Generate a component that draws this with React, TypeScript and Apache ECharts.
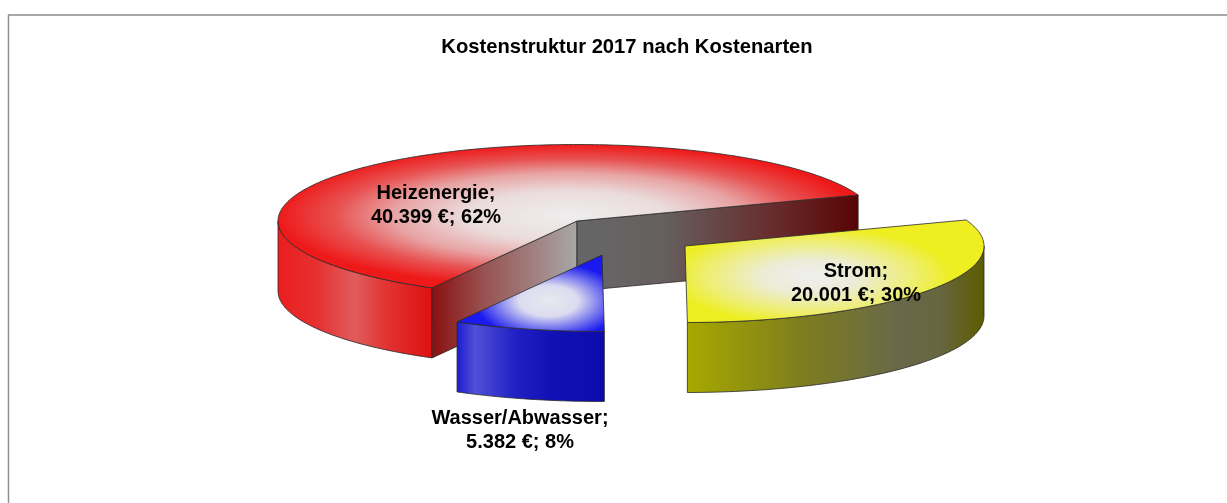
import React, { useEffect, useRef } from "react";
import * as echarts from "echarts";

const categories = ["Heizenergie", "Strom", "Wasser/Abwasser"];
const costs = [40399, 20001, 5382];
const costLabels = ["40.399", "20.001", "5.382"];
const percentLabels = [62, 30, 8];
const chartTitle = "Kostenstruktur 2017 nach Kostenarten";

const START_ANGLE = 241;
const CX = 577;
const CY = 221;
const RX = 299;
const RY = 76.5;
const DEPTH = 70;
const explode = [[0, 0], [108, 25], [25, 34]];
const labelPos = [[436, 204], [856, 282], [520, 429]];

const lin = (stops: [number, string][]) => ({
  type: "linear", x: 0, y: 0, x2: 1, y2: 0, global: false,
  colorStops: stops.map(([offset, color]) => ({ offset, color })),
});
const rad = (x: number, y: number, stops: [number, string][]) => ({
  type: "radial", x, y, r: 0.5, global: false,
  colorStops: stops.map(([offset, color]) => ({ offset, color })),
});

const topFills = [
  rad(0.5, 0.5, [[0, "#eeeeee"], [0.35, "#ebdcdc"], [0.6, "#e8a4a4"], [0.8, "#e85252"], [1, "#ee1a1a"]]),
  rad(0.42, 0.55, [[0, "#eeeeee"], [0.32, "#ececd8"], [0.7, "#eeee70"], [0.95, "#eeee20"]]),
  rad(0.62, 0.6, [[0, "#e8e8ee"], [0.4, "#dcdcf0"], [0.75, "#6a6aee"], [1, "#1a1af0"]]),
];
const sideFills = [
  lin([[0, "#ea1e1e"], [0.25, "#e63030"], [0.5, "#e05c5c"], [0.7, "#e23434"], [1, "#de1010"]]),
  lin([[0, "#a8a800"], [0.4, "#7c7c20"], [0.72, "#68684a"], [0.85, "#666640"], [1, "#5c5c00"]]),
  lin([[0, "#1c1cd0"], [0.12, "#5050d8"], [0.4, "#2020c4"], [0.65, "#1010b4"], [1, "#0c0cae"]]),
];
const wallFrontFill = lin([[0, "#8a1010"], [0.35, "#985050"], [1, "#a8a8a8"]]);
const wallBackFill = lin([[0, "#666666"], [0.3, "#666060"], [0.7, "#682c2c"], [1, "#580404"]]);
const edge = { stroke: "#2a2a2a", lineWidth: 0.8 };

const total = costs.reduce((a, b) => a + b, 0);
const rimPoint = (cx: number, cy: number, deg: number) => {
  const a = (deg * Math.PI) / 180;
  return [cx + RX * Math.cos(a), cy - RY * Math.sin(a)];
};
const arc = (cx: number, cy: number, from: number, to: number) => {
  const n = Math.max(2, Math.ceil(Math.abs(to - from)));
  const pts: number[][] = [];
  for (let i = 0; i <= n; i++) pts.push(rimPoint(cx, cy, from + ((to - from) * i) / n));
  return pts;
};

function renderSlice(params: any, api: any) {
  const i = params.dataIndex;
  const before = costs.slice(0, i).reduce((a, b) => a + b, 0);
  const value = api.value(0);
  const end = START_ANGLE - (before / total) * 360; // drawn clockwise
  const sweep = (value / total) * 360;
  const start = end - sweep;
  const cx = CX + explode[i][0];
  const cy = CY + explode[i][1];
  const children: any[] = [];
  const down = (p: number[]) => [p[0], p[1] + DEPTH];

  // Visible outer wall: the part of the rim in the lower half of the ellipse
  const s = ((start % 360) + 360) % 360;
  const e = s + sweep;
  const visFrom = Math.max(s, 180);
  const visTo = Math.min(e, 360);
  if (visTo > visFrom) {
    const rim = arc(cx, cy, visFrom, visTo);
    children.push({
      type: "polygon",
      shape: { points: [...rim, ...rim.map(down).reverse()] },
      style: { fill: sideFills[i], ...edge },
    });
  }
  if (sweep > 180) {
    const v = [cx, cy];
    const a = rimPoint(cx, cy, end);
    const b = rimPoint(cx, cy, start);
    children.push({ type: "polygon", shape: { points: [v, a, down(a), down(v)] }, style: { fill: wallFrontFill, ...edge } });
    children.push({ type: "polygon", shape: { points: [v, b, down(b), down(v)] }, style: { fill: wallBackFill, ...edge } });
  }
  children.push({
    type: "polygon",
    shape: { points: [[cx, cy], ...arc(cx, cy, start, end)] },
    style: { fill: topFills[i], ...edge },
  });
  children.push({
    type: "text",
    x: labelPos[i][0],
    y: labelPos[i][1],
    style: {
      text: `${categories[i]};\n${costLabels[i]} €; ${percentLabels[i]}%`,
      font: 'bold 20px "Liberation Sans", Arial, sans-serif',
      lineHeight: 24,
      fill: "#000",
      textAlign: "center",
      textVerticalAlign: "middle",
    },
  });
  return { type: "group", children };
}

export default function App() {
  const ref = useRef<HTMLDivElement>(null);
  useEffect(() => {
    document.body.style.margin = "0";
    const chart = echarts.init(ref.current!, null, { renderer: "svg" });
    chart.setOption({
      animation: false,
      backgroundColor: "#fff",
      title: {
        text: chartTitle,
        left: 622,
        top: 31,
        textAlign: "center",
        textStyle: { fontFamily: '"Liberation Sans", Arial, sans-serif', fontWeight: "bold", fontSize: 20.2, color: "#000" },
      },
      graphic: [
        { type: "line", shape: { x1: 8, y1: 15, x2: 1227, y2: 15 }, style: { stroke: "#a8a8a8", lineWidth: 2 } },
        { type: "line", shape: { x1: 8.5, y1: 15, x2: 8.5, y2: 503 }, style: { stroke: "#909090", lineWidth: 1.5 } },
      ],
      series: [
        {
          type: "custom",
          coordinateSystem: "none",
          silent: true,
          renderItem: renderSlice,
          data: categories.map((name, i) => ({ name, value: [costs[i]] })),
        },
      ],
    });
    return () => chart.dispose();
  }, []);
  return <div ref={ref} style={{ position: "absolute", left: 0, top: 0, width: 1227, height: 503, filter: "blur(0.4px)" }} />;
}
